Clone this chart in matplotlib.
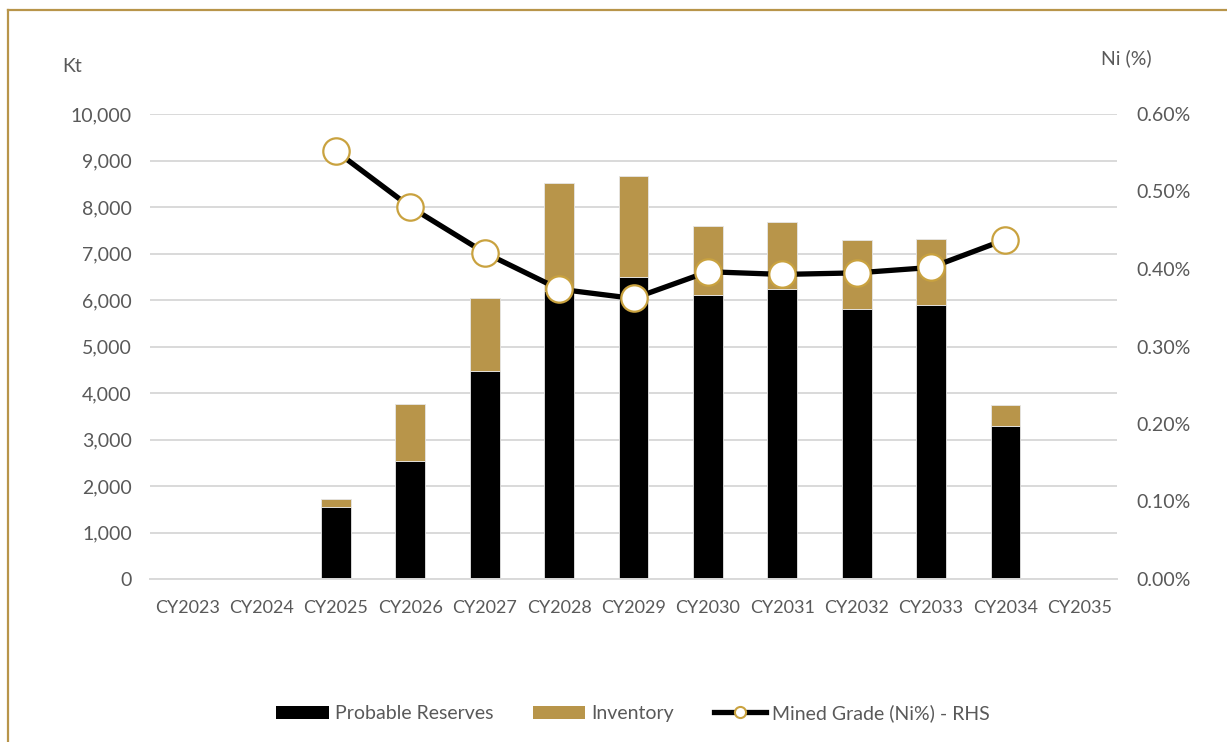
import matplotlib
matplotlib.use("Agg")
import matplotlib.pyplot as plt
import numpy as np
from matplotlib.lines import Line2D
from matplotlib.patches import Patch
from matplotlib.ticker import FuncFormatter, MultipleLocator

categories = ["CY2023", "CY2024", "CY2025", "CY2026", "CY2027", "CY2028", "CY2029",
              "CY2030", "CY2031", "CY2032", "CY2033", "CY2034", "CY2035"]
probable_reserves = [np.nan, np.nan, 1555, 2544, 4475, 6200, 6495, 6108, 6230, 5810, 5900, 3300, np.nan]
inventory_total = [np.nan, np.nan, 1720, 3763, 6043, 8520, 8667, 7598, 7670, 7290, 7310, 3742, np.nan]
inventory = [t - p for t, p in zip(inventory_total, probable_reserves)]
mined_grade = [np.nan, np.nan, 0.552, 0.480, 0.421, 0.374, 0.362, 0.3965, 0.393, 0.395, 0.402, 0.438, np.nan]

GOLD = "#B8954A"
MARK_EDGE = "#C9A23F"
TEXT = "#595959"
GRID = "#D9D9D9"
FONT = "Lato"
FS = 14

plt.rcParams["font.family"] = [FONT, "DejaVu Sans"]

fig = plt.figure(figsize=(12.27, 7.42), dpi=100)
ax = fig.add_axes([150/1227, (742-579)/742, (1117-150)/1227, (579-114)/742])
ax2 = ax.twinx()

x = np.arange(len(categories))
w = 0.4
ax.bar(x, probable_reserves, width=w, color="black", edgecolor="#E6E6E6", linewidth=0.6, zorder=2)
ax.bar(x, inventory, width=w, bottom=probable_reserves, color=GOLD, edgecolor="#E6E6E6", linewidth=0.6, zorder=2)

ax.set_xlim(-0.5, len(categories) - 0.5)
ax.set_ylim(0, 10000)
ax.yaxis.set_major_locator(MultipleLocator(1000))
ax.yaxis.set_major_formatter(FuncFormatter(lambda v, p: f"{int(v):,}"))
ax.grid(axis="y", color=GRID, linewidth=1.4, zorder=0)
ax.set_axisbelow(True)
ax.set_xticks(x)
ax.set_xticklabels(categories)
ax.tick_params(axis="x", length=0, pad=15, labelsize=13, labelcolor=TEXT)
ax.tick_params(axis="y", length=0, pad=13, labelsize=FS, labelcolor=TEXT)
for s in ["top", "right", "left"]:
    ax.spines[s].set_visible(False)
ax.spines["bottom"].set_color(GRID)
ax.spines["bottom"].set_linewidth(1.4)

ax2.plot(x, mined_grade, color="black", linewidth=3.8, marker="o", markersize=19,
         markerfacecolor="white", markeredgecolor=MARK_EDGE, markeredgewidth=1.6, zorder=3)
ax2.set_ylim(0, 0.6)
ax2.yaxis.set_major_locator(MultipleLocator(0.1))
ax2.yaxis.set_major_formatter(FuncFormatter(lambda v, p: f"{v:.2f}%"))
ax2.tick_params(axis="y", length=0, pad=14, labelsize=FS, labelcolor=TEXT)
for s in ["top", "right", "left", "bottom"]:
    ax2.spines[s].set_visible(False)

fig.text(62/1227, 1 - 67/742, "Kt", fontsize=FS, color=TEXT, va="center", ha="left")
fig.text(1101/1227, 1 - 58/742, "Ni (%)", fontsize=FS, color=TEXT, va="center", ha="left")

handles = [
    Patch(facecolor="black", edgecolor="none"),
    Patch(facecolor=GOLD, edgecolor="none"),
    Line2D([0], [0], color="black", linewidth=3.8, marker="o", markersize=8,
           markerfacecolor="white", markeredgecolor=MARK_EDGE, markeredgewidth=1.5),
]
labels = ["Probable Reserves", "Inventory", "Mined Grade (Ni%) - RHS"]
leg = fig.legend(handles, labels, loc="center", bbox_to_anchor=(633/1227, 1 - 713/742),
                 ncol=3, frameon=False, fontsize=FS, handlelength=2.7, handletextpad=0.3,
                 columnspacing=2.05, handleheight=0.65)
for t in leg.get_texts():
    t.set_color(TEXT)

# frame lines (left and top)
fig.add_artist(Line2D([8/1227, 8/1227], [0, 1 - 10/742], color=GOLD, linewidth=1.6,
                      transform=fig.transFigure))
fig.add_artist(Line2D([8/1227, 1], [1 - 10/742, 1 - 10/742], color=GOLD, linewidth=1.6,
                      transform=fig.transFigure))

fig.savefig("out.png", dpi=100, facecolor="white")
